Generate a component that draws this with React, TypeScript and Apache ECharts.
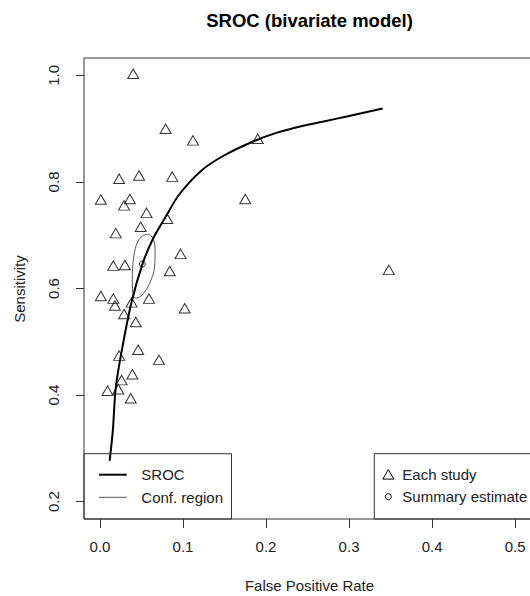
import React, { useEffect, useRef } from "react";
import * as echarts from "echarts";

// Individual studies (false positive rate, sensitivity)
const studyFpr = [
  0.04, 0.079, 0.112, 0.023, 0.047, 0.087, 0.001, 0.036, 0.029, 0.056, 0.081, 0.049,
  0.019, 0.097, 0.016, 0.03, 0.084, 0.001, 0.016, 0.059, 0.038, 0.102, 0.018, 0.029,
  0.043, 0.046, 0.023, 0.071, 0.039, 0.026, 0.009, 0.022, 0.037, 0.19, 0.175, 0.348,
];
const studySens = [
  1.0, 0.897, 0.875, 0.803, 0.809, 0.807, 0.764, 0.765, 0.753, 0.739, 0.728, 0.713,
  0.701, 0.662, 0.64, 0.641, 0.63, 0.583, 0.578, 0.578, 0.571, 0.56, 0.565, 0.549,
  0.534, 0.482, 0.471, 0.463, 0.436, 0.425, 0.405, 0.408, 0.391, 0.878, 0.765, 0.632,
];

// Summary estimate
const summaryFpr = [0.051];
const summarySens = [0.646];

// SROC curve
const srocFpr = [
  0.0116, 0.0155, 0.0187, 0.025, 0.0377, 0.0515, 0.0643, 0.0782, 0.0952, 0.1223,
  0.1488, 0.1845, 0.2143, 0.2461, 0.2679, 0.3, 0.3405,
];
const srocSens = [
  0.2764, 0.3346, 0.4098, 0.473, 0.5726, 0.6477, 0.6947, 0.7322, 0.776, 0.8216,
  0.8492, 0.876, 0.893, 0.906, 0.913, 0.924, 0.938,
];

// Confidence region
const confFpr = [
  0.0595, 0.0646, 0.0663, 0.0655, 0.0615, 0.0556, 0.0485, 0.0429, 0.0396, 0.0389,
  0.0396, 0.0417, 0.0456, 0.0515, 0.0595,
];
const confSens = [
  0.7022, 0.6915, 0.6695, 0.6383, 0.6163, 0.5976, 0.585, 0.582, 0.5914, 0.6195,
  0.6445, 0.6695, 0.6883, 0.699, 0.7022,
];

const xTicks = [0, 0.1, 0.2, 0.3, 0.4, 0.5];
const yTicks = [0.2, 0.4, 0.6, 0.8, 1.0];

const FONT = "'Liberation Sans', Arial, sans-serif";

export default function App() {
  const ref = useRef<HTMLDivElement>(null);

  useEffect(() => {
    if (!ref.current) return;
    const chart = echarts.init(ref.current, undefined, { renderer: "svg" });

    const zip = (a: number[], b: number[]) => a.map((v, i) => [v, b[i]]);

    const GL = 84;
    const GT = 58;
    const GW = 451;
    const GH = 461;
    const GB = GT + GH;

    const option: any = {
      animation: false,
      backgroundColor: "#fff",
      grid: {
        left: GL,
        top: GT,
        width: GW,
        height: GH,
        show: false,
      },
      xAxis: {
        type: "value",
        min: -0.0193,
        max: 0.518,
        axisLine: { show: false, onZero: false },
        splitLine: { show: false },
        axisTick: {
          show: true,
          customValues: xTicks,
          length: 9,
          lineStyle: { color: "#333", width: 1 },
        },
        axisLabel: {
          customValues: xTicks,
          formatter: (v: number) => v.toFixed(1),
          fontSize: 15,
          fontFamily: FONT,
          color: "#222",
          margin: 20,
        },
      },
      yAxis: {
        type: "value",
        min: 0.1673,
        max: 1.0327,
        axisLine: { show: false, onZero: false },
        splitLine: { show: false },
        axisTick: {
          show: true,
          customValues: yTicks,
          length: 8,
          lineStyle: { color: "#333", width: 1 },
        },
        axisLabel: {
          customValues: yTicks,
          formatter: (v: number) => v.toFixed(1),
          fontSize: 15,
          fontFamily: FONT,
          color: "#222",
          rotate: 90,
          margin: 23,
        },
      },
      series: [
        {
          type: "line",
          data: zip(confFpr, confSens),
          showSymbol: false,
          smooth: 0.4,
          lineStyle: { color: "#555", width: 1 },
          silent: true,
          z: 2,
        },
        {
          type: "line",
          data: zip(srocFpr, srocSens),
          showSymbol: false,
          smooth: 0.3,
          lineStyle: { color: "#000", width: 2 },
          silent: true,
          z: 3,
        },
        {
          type: "scatter",
          data: zip(studyFpr, studySens),
          symbol: "triangle",
          symbolSize: [11, 9.5],
          symbolOffset: [0, -1.6],
          itemStyle: { color: "rgba(0,0,0,0)", borderColor: "#000", borderWidth: 1 },
          z: 4,
        },
        {
          type: "scatter",
          data: zip(summaryFpr, summarySens),
          symbol: "circle",
          symbolSize: 6,
          itemStyle: { color: "rgba(0,0,0,0)", borderColor: "#000", borderWidth: 1 },
          z: 5,
        },
      ],
      graphic: [
        {
          type: "rect",
          shape: { x: GL, y: GT, width: GW, height: GH },
          style: { fill: "none", stroke: "#333", lineWidth: 1 },
          silent: true,
          z: 1,
        },
        {
          type: "text",
          x: 309.5,
          y: 20,
          style: {
            text: "SROC (bivariate model)",
            fontSize: 18.5,
            fontWeight: "bold",
            fontFamily: FONT,
            fill: "#000",
            align: "center",
            verticalAlign: "middle",
          },
        },
        {
          type: "text",
          x: 309.5,
          y: 585,
          style: {
            text: "False Positive Rate",
            fontSize: 15,
            fontFamily: FONT,
            fill: "#222",
            align: "center",
            verticalAlign: "middle",
          },
        },
        {
          type: "text",
          x: 19,
          y: 289,
          rotation: Math.PI / 2,
          style: {
            text: "Sensitivity",
            fontSize: 15,
            fontFamily: FONT,
            fill: "#222",
            align: "center",
            verticalAlign: "middle",
          },
        },
        // Left legend
        {
          type: "rect",
          shape: { x: GL, y: 453.7, width: 147.5, height: GB - 453.7 },
          style: { fill: "none", stroke: "#333", lineWidth: 1 },
          z: 10,
        },
        {
          type: "line",
          shape: { x1: 99, y1: 474.7, x2: 126.7, y2: 474.7 },
          style: { stroke: "#000", lineWidth: 2 },
          z: 10,
        },
        {
          type: "line",
          shape: { x1: 99, y1: 497.3, x2: 126.7, y2: 497.3 },
          style: { stroke: "#555", lineWidth: 1 },
          z: 10,
        },
        {
          type: "text",
          x: 141.3,
          y: 474.7,
          style: { text: "SROC", fontSize: 15, fontFamily: FONT, fill: "#222", verticalAlign: "middle" },
          z: 10,
        },
        {
          type: "text",
          x: 141.3,
          y: 497.3,
          style: { text: "Conf. region", fontSize: 15, fontFamily: FONT, fill: "#222", verticalAlign: "middle" },
          z: 10,
        },
        // Right legend
        {
          type: "rect",
          shape: { x: 374.3, y: 453.7, width: 220, height: GB - 453.7 },
          style: { fill: "none", stroke: "#333", lineWidth: 1 },
          z: 10,
        },
        {
          type: "polygon",
          shape: { points: [[388.3, 469.6], [382.8, 479.1], [393.8, 479.1]] },
          style: { fill: "none", stroke: "#000", lineWidth: 1 },
          z: 10,
        },
        {
          type: "circle",
          shape: { cx: 388.3, cy: 496.7, r: 3 },
          style: { fill: "none", stroke: "#000", lineWidth: 1 },
          z: 10,
        },
        {
          type: "text",
          x: 402.3,
          y: 474.5,
          style: { text: "Each study", fontSize: 15, fontFamily: FONT, fill: "#222", verticalAlign: "middle" },
          z: 10,
        },
        {
          type: "text",
          x: 402.3,
          y: 496.7,
          style: { text: "Summary estimate", fontSize: 15, fontFamily: FONT, fill: "#222", verticalAlign: "middle" },
          z: 10,
        },
      ],
    };

    chart.setOption(option);
    return () => chart.dispose();
  }, []);

  return (
    <div
      ref={ref}
      style={{ position: "fixed", left: 0, top: 0, width: 530, height: 596, background: "#fff" }}
    />
  );
}
